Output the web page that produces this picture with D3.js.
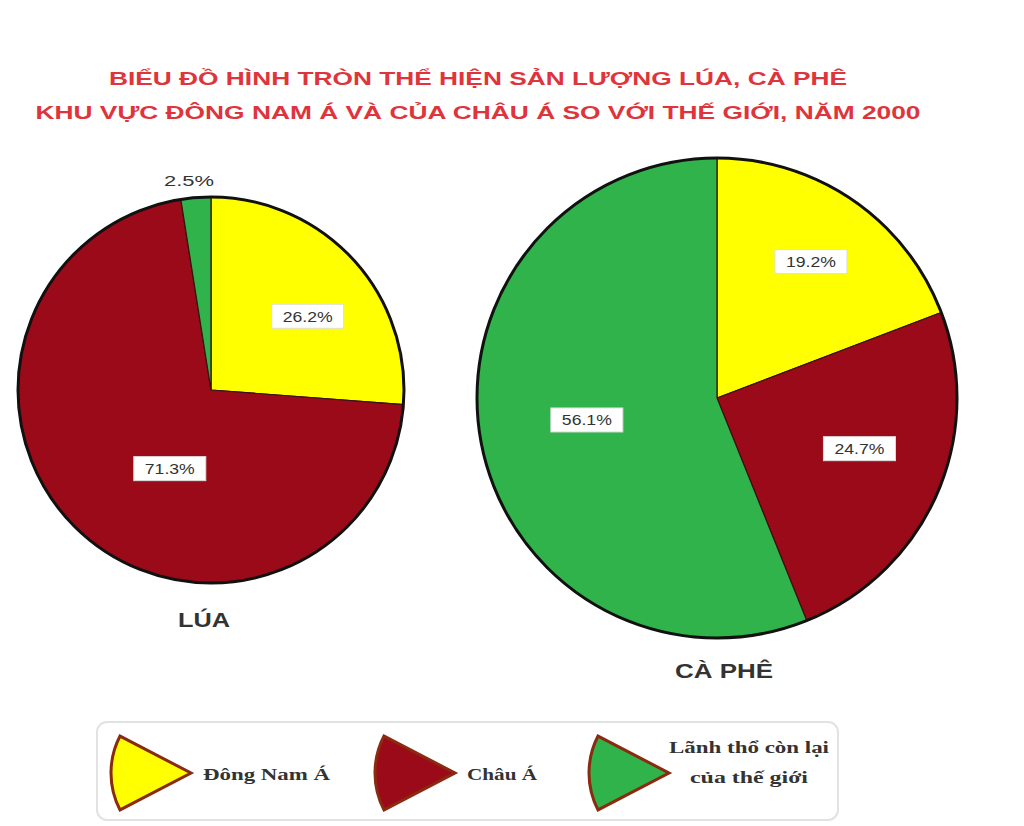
<!DOCTYPE html>
<html><head><meta charset="utf-8">
<script src="https://cdn.jsdelivr.net/npm/d3@7"></script>
<style>body{margin:0;background:#fff}svg{display:block}</style>
</head><body>
<script>
const categories = ["Đông Nam Á", "Châu Á", "Lãnh thổ còn lại của thế giới"];
const luaValues = [26.2, 71.3, 2.5];
const caPheValues = [19.2, 24.7, 56.1];
const chartNames = ["LÚA", "CÀ PHÊ"];
const titleLines = ["BIỂU ĐỒ HÌNH TRÒN THỂ HIỆN SẢN LƯỢNG LÚA, CÀ PHÊ",
  "KHU VỰC ĐÔNG NAM Á VÀ CỦA CHÂU Á SO VỚI THẾ GIỚI, NĂM 2000"];
const colors = ["#ffff00", "#9b0a18", "#2fb34a"];

const W = 1024, H = 826;
const svg = d3.select("body").append("svg").attr("width", W).attr("height", H);

const titleLen = [738, 885];
svg.selectAll("text.title").data(titleLines).join("text")
  .attr("x", 478).attr("y", (d, i) => 85 + i * 34)
  .attr("text-anchor", "middle")
  .attr("font-family", "Arial, 'Liberation Sans', sans-serif")
  .attr("font-weight", "bold").attr("font-size", 19)
  .attr("textLength", (d, i) => titleLen[i]).attr("lengthAdjust", "spacingAndGlyphs")
  .attr("fill", "#e0343c").text(d => d);

const color = d3.scaleOrdinal().domain(categories).range(colors);
const pie = d3.pie().sort(null).value(d => d.v);

function drawPie(values, cx, cy, r, labelPos, name, nameX, nameY, nameLen) {
  const g = svg.append("g").attr("transform", `translate(${cx},${cy})`);
  const data = pie(values.map((v, i) => ({ v, c: categories[i] })));
  const arc = d3.arc().innerRadius(0).outerRadius(r);
  g.selectAll("path").data(data).join("path")
    .attr("d", arc).attr("fill", d => color(d.data.c))
    .attr("stroke", "#3a1010").attr("stroke-width", 1.2);
  g.append("circle").attr("r", r).attr("fill", "none")
    .attr("stroke", "#111").attr("stroke-width", 3);
  data.forEach((d, i) => {
    const mid = (d.startAngle + d.endAngle) / 2 + labelPos[i][1] * Math.PI / 180;
    const rr = r * labelPos[i][0];
    const x = Math.sin(mid) * rr, y = -Math.cos(mid) * rr;
    const txt = d.data.v.toFixed(1) + "%";
    const lg = g.append("g").attr("transform", `translate(${x},${y})`);
    const outside = labelPos[i][0] > 1;
    if (!outside) {
      lg.append("rect").attr("x", -36).attr("y", -12).attr("width", 72).attr("height", 24)
        .attr("fill", "#fff").attr("stroke", "#ddd").attr("stroke-width", 1);
    }
    lg.append("text").attr("text-anchor", "middle").attr("dy", "0.36em")
      .attr("font-family", "Arial, 'Liberation Sans', sans-serif")
      .attr("font-size", 15).attr("fill", "#333")
      .attr("textLength", 50).attr("lengthAdjust", "spacingAndGlyphs").text(txt);
  });
  svg.append("text").attr("x", nameX).attr("y", nameY)
    .attr("text-anchor", "middle")
    .attr("font-family", "Arial, 'Liberation Sans', sans-serif")
    .attr("font-weight", "bold").attr("font-size", 20).attr("fill", "#333")
    .attr("textLength", nameLen).attr("lengthAdjust", "spacingAndGlyphs").text(name);
}

drawPie(luaValues, 211, 390, 193, [[0.63, 5.5], [0.46, -15], [1.09, -1.5]], chartNames[0], 204, 627, 52);
drawPie(caPheValues, 717, 398, 240, [[0.69, 0], [0.63, -4], [0.55, 1.4]], chartNames[1], 724, 678, 98);

// legend
svg.append("rect").attr("x", 97).attr("y", 722).attr("width", 741).attr("height", 98)
  .attr("rx", 10).attr("fill", "#fff").attr("stroke", "#e2e2e2").attr("stroke-width", 2);
const legArc = d3.arc().innerRadius(0).outerRadius(80)
  .startAngle(-Math.PI / 2 - 0.48).endAngle(-Math.PI / 2 + 0.48);
const legX = [191, 455, 669];
const legG = svg.selectAll("g.leg").data(categories).join("g")
  .attr("transform", (d, i) => `translate(${legX[i]},773)`);
legG.append("path").attr("d", legArc).attr("fill", d => color(d))
  .attr("stroke", "#8a2a10").attr("stroke-width", 3).attr("stroke-linejoin", "miter");
const legTextLines = [["Đông Nam Á"], ["Châu Á"], ["Lãnh thổ còn lại", "của thế giới"]];
const legLens = [[127], [70], [160, 118]];
legG.each(function (d, i) {
  const sel = d3.select(this);
  const font = t => t.attr("font-family", "'Liberation Serif', 'DejaVu Serif', serif")
    .attr("font-weight", "bold").attr("font-size", 16).attr("fill", "#333")
    .attr("lengthAdjust", "spacingAndGlyphs");
  if (i < 2) {
    font(sel.append("text")).attr("x", 12).attr("y", 7)
      .attr("textLength", legLens[i][0]).text(legTextLines[i][0]);
  } else {
    legTextLines[i].forEach((l, k) => font(sel.append("text"))
      .attr("text-anchor", "middle").attr("x", 80).attr("y", -20 + k * 30)
      .attr("textLength", legLens[i][k]).text(l));
  }
});
</script>
</body></html>
